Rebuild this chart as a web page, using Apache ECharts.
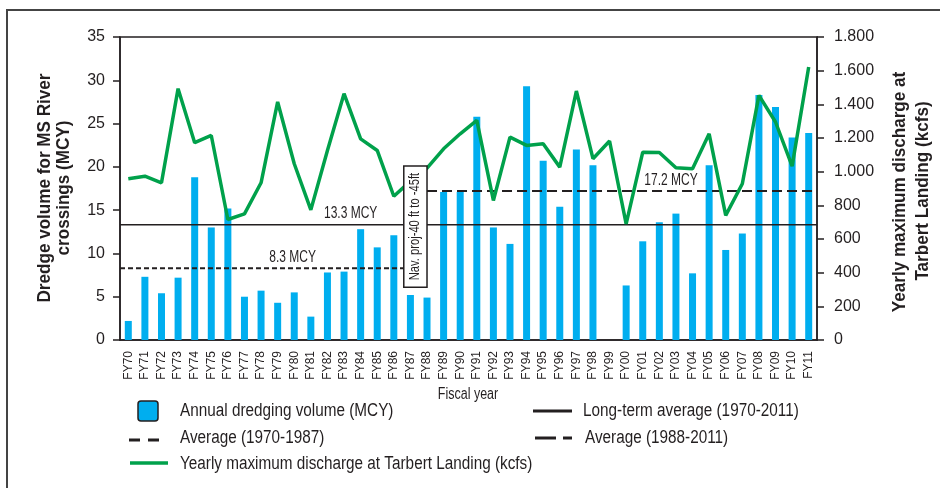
<!DOCTYPE html>
<html>
<head>
<meta charset="utf-8">
<script src="https://cdn.jsdelivr.net/npm/echarts@6/dist/echarts.min.js"></script>
<style>
  html, body { margin: 0; padding: 0; background: #fff; }
  #main { width: 940px; height: 488px; }
</style>
</head>
<body>
<div id="main"></div>
<script>
var years = ['FY70', 'FY71', 'FY72', 'FY73', 'FY74', 'FY75', 'FY76', 'FY77', 'FY78', 'FY79',
    'FY80', 'FY81', 'FY82', 'FY83', 'FY84', 'FY85', 'FY86', 'FY87', 'FY88', 'FY89',
    'FY90', 'FY91', 'FY92', 'FY93', 'FY94', 'FY95', 'FY96', 'FY97', 'FY98', 'FY99',
    'FY00', 'FY01', 'FY02', 'FY03', 'FY04', 'FY05', 'FY06', 'FY07', 'FY08', 'FY09',
    'FY10', 'FY11'];
// annual dredging volume (MCY), FY99 has no bar
var dredge = [2.2, 7.3, 5.4, 7.2, 18.8, 13.0, 15.2, 5.0, 5.7, 4.3,
    5.5, 2.7, 7.8, 7.9, 12.8, 10.7, 12.1, 5.2, 4.9, 17.1,
    17.1, 25.8, 13.0, 11.1, 29.3, 20.7, 15.4, 22.0, 20.2, null,
    6.3, 11.4, 13.6, 14.6, 7.7, 20.2, 10.4, 12.3, 28.3, 26.9,
    23.4, 23.9];
// yearly maximum discharge at Tarbert Landing (kcfs)
var discharge = [958, 973, 934, 1493, 1172, 1215, 716, 749, 934, 1414,
    1047, 773, 1126, 1463, 1195, 1126, 854, 944, 1021, 1136,
    1225, 1305, 829, 1205, 1156, 1166, 1027, 1479, 1077, 1182,
    690, 1116, 1114, 1023, 1017, 1225, 740, 928, 1453, 1295,
    1033, 1622];
var longTermAvg = 13.3;
var earlyAvg = 8.3;
var lateAvg = 17.2;
var leftTicks = [0, 35, 5];
var rightTicks = [0, 1800, 200];

var FONT = "'Liberation Sans', Arial, sans-serif";
var INK = '#231f20';
var BLUE = '#00aeef';
var GREEN = '#00a14b';

// the navigation project box sits between FY87 and FY88 (x in category index units)
var boxX = [16.6, 18.0];
var boxY = [6.1, 20.1];
var xEdge = [-0.5, years.length - 0.5];

var chart = echarts.init(document.getElementById('main'));

function kfmt(v) {
    if (v >= 1000) {
        var r = v % 1000;
        return Math.floor(v / 1000) + '.' + ('00' + r).slice(-3);
    }
    return String(v);
}

var option = {
    animation: false,
    textStyle: { fontFamily: FONT, color: INK },
    grid: {
        left: 120, right: 123, top: 37, bottom: 148,
        show: true, borderColor: INK, borderWidth: 1.5
    },
    xAxis: [
        {
            type: 'category',
            data: years,
            axisLine: { lineStyle: { color: INK, width: 1.5 } },
            axisTick: { length: 7, lineStyle: { color: INK, width: 1.5 } },
            axisLabel: { rotate: 90, fontFamily: FONT, fontSize: 12, color: INK, margin: 11 }
        },
        { type: 'value', min: xEdge[0], max: xEdge[1], show: false }
    ],
    yAxis: [
        {
            type: 'value', min: leftTicks[0], max: leftTicks[1], interval: leftTicks[2],
            splitLine: { show: false },
            axisLine: { show: true, onZero: false, lineStyle: { color: INK, width: 1.5 } },
            axisTick: { show: true, length: 7, lineStyle: { color: INK, width: 1.5 } },
            axisLabel: { fontSize: 16, color: INK, margin: 15, fontFamily: FONT }
        },
        {
            type: 'value', min: rightTicks[0], max: rightTicks[1], interval: rightTicks[2],
            splitLine: { show: false },
            axisLine: { show: true, onZero: false, lineStyle: { color: INK, width: 1.5 } },
            axisTick: { show: true, length: 7, lineStyle: { color: INK, width: 1.5 } },
            axisLabel: { fontSize: 16, color: INK, margin: 17, fontFamily: FONT, formatter: kfmt }
        }
    ],
    series: [
        {
            name: 'Annual dredging volume (MCY)',
            type: 'bar',
            data: dredge,
            barWidth: 7,
            itemStyle: { color: BLUE },
            z: 1
        },
        {
            name: 'Long-term average (1970-2011)',
            type: 'line',
            xAxisIndex: 1,
            data: [[xEdge[0], longTermAvg], [xEdge[1], longTermAvg]],
            symbol: 'none',
            lineStyle: { color: INK, width: 1.5 },
            z: 3
        },
        {
            name: 'Average (1970-1987)',
            type: 'line',
            xAxisIndex: 1,
            data: [[xEdge[0], earlyAvg], [boxX[0], earlyAvg]],
            symbol: 'none',
            lineStyle: { color: INK, width: 2, type: [5, 3] },
            z: 3
        },
        {
            name: 'Average (1988-2011)',
            type: 'line',
            xAxisIndex: 1,
            data: [[boxX[1], lateAvg], [xEdge[1], lateAvg]],
            symbol: 'none',
            lineStyle: { color: INK, width: 2, type: [10, 5] },
            z: 3
        },
        {
            name: 'Yearly maximum discharge at Tarbert Landing (kcfs)',
            type: 'line',
            yAxisIndex: 1,
            data: discharge,
            symbol: 'none',
            lineStyle: { color: GREEN, width: 3.5 },
            z: 4
        }
    ]
};
chart.setOption(option);

// annotations placed through the chart's own scales
function px(x, y) {
    return chart.convertToPixel({ xAxisIndex: 1, yAxisIndex: 0 }, [x, y]);
}
var b0 = px(boxX[0], boxY[1]);
var b1 = px(boxX[1], boxY[0]);
var t13 = px(13.4, longTermAvg);
var t8 = px(9.9, earlyAvg);
var t17 = px(32.7, lateAvg);

// condensed look: regular font squeezed along the text direction
function label(x, y, s, size, squeeze, extra) {
    var el = {
        type: 'text', x: x, y: y, scaleX: squeeze, z: 10,
        style: { text: s, fontFamily: FONT, fontSize: size, fill: INK, align: 'left', verticalAlign: 'middle' }
    };
    if (extra) {
        for (var k in extra) {
            if (k === 'style') Object.assign(el.style, extra.style);
            else el[k] = extra[k];
        }
    }
    return el;
}
var avgStyle = { style: { align: 'center', verticalAlign: 'bottom' } };
var vert = function (bold) {
    return { rotation: Math.PI / 2, style: { align: 'center', fontWeight: bold ? 'bold' : 'normal' } };
};

chart.setOption({
    graphic: [
        // outer frame of the figure
        { type: 'rect', shape: { x: 7, y: 10, width: 960, height: 500 }, style: { fill: null, stroke: '#444', lineWidth: 2 }, z: 0 },
        label(t13[0], t13[1] - 3, longTermAvg + ' MCY', 16, 0.75, avgStyle),
        label(t8[0], t8[1] - 3, earlyAvg + ' MCY', 16, 0.75, avgStyle),
        label(t17[0], t17[1] - 3, lateAvg + ' MCY', 16, 0.75, avgStyle),
        {
            type: 'rect', z: 20,
            shape: { x: b0[0], y: b0[1], width: b1[0] - b0[0], height: b1[1] - b0[1] },
            style: { fill: '#fff', stroke: INK, lineWidth: 1.5 }
        },
        label((b0[0] + b1[0]) / 2, (b0[1] + b1[1]) / 2, 'Nav. proj-40 ft to -45ft', 14, 0.8,
            { z: 21, rotation: Math.PI / 2, style: { align: 'center' } }),
        // axis titles
        label(45, 188, 'Dredge volume for MS River', 19, 0.9, vert(true)),
        label(64, 188, 'crossings (MCY)', 19, 0.9, vert(true)),
        label(900, 192, 'Yearly maximum discharge at', 19, 0.9, vert(true)),
        label(923, 191, 'Tarbert Landing (kcfs)', 19, 0.9, vert(true)),
        label(468, 395, 'Fiscal year', 16, 0.78, { style: { align: 'center' } }),
        // legend
        { type: 'rect', shape: { x: 138, y: 401, width: 20, height: 20, r: 3 }, style: { fill: BLUE, stroke: INK, lineWidth: 1.5 } },
        label(180, 411, 'Annual dredging volume (MCY)', 18, 0.85),
        { type: 'line', shape: { x1: 129, y1: 440, x2: 160, y2: 440 }, style: { stroke: INK, lineWidth: 3, lineDash: [11, 8] } },
        label(180, 438, 'Average (1970-1987)', 18, 0.85),
        { type: 'line', shape: { x1: 130, y1: 463, x2: 168, y2: 463 }, style: { stroke: GREEN, lineWidth: 3.5 } },
        label(180, 464, 'Yearly maximum discharge at Tarbert Landing (kcfs)', 18, 0.85),
        { type: 'line', shape: { x1: 533, y1: 411, x2: 572, y2: 411 }, style: { stroke: INK, lineWidth: 3 } },
        label(583, 411, 'Long-term average (1970-2011)', 18, 0.85),
        { type: 'line', shape: { x1: 535, y1: 438, x2: 556, y2: 438 }, style: { stroke: INK, lineWidth: 3 } },
        { type: 'line', shape: { x1: 563, y1: 438, x2: 572, y2: 438 }, style: { stroke: INK, lineWidth: 3 } },
        label(585, 438, 'Average (1988-2011)', 18, 0.85)
    ]
});

window.onresize = function () {
    chart.resize();
};
</script>
</body>
</html>
